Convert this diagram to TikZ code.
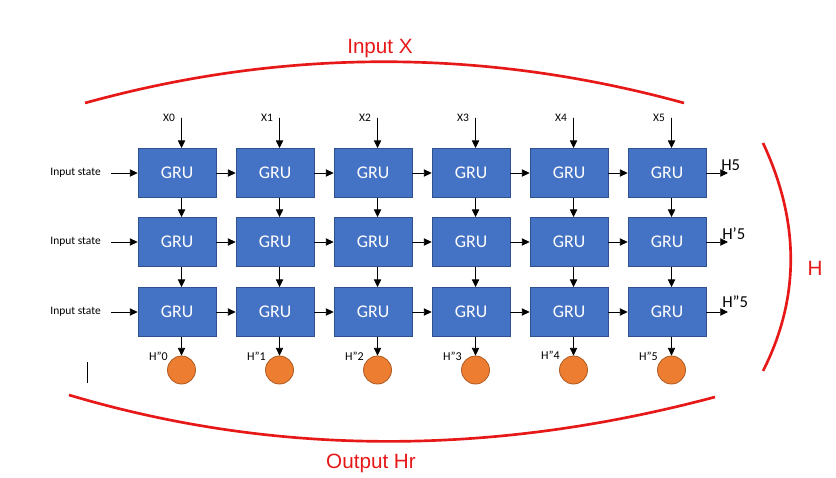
\documentclass[tikz,border=0pt]{standalone}
\usepackage{fontspec}
\setmainfont{Carlito}
\newfontfamily\redfont{Liberation Sans}
\usetikzlibrary{arrows.meta}

\definecolor{gruBlue}{RGB}{68,114,196}
\definecolor{gruBorder}{RGB}{47,82,143}
\definecolor{outOrange}{RGB}{237,125,49}
\definecolor{outBorder}{RGB}{174,90,33}
\definecolor{bracketRed}{RGB}{230,24,24}

\tikzset{
  gru/.style={draw=gruBorder, fill=gruBlue, line width=0.6pt, minimum width=58.5pt, minimum height=36.75pt, inner sep=0pt, text=white, font=\fontsize{13.4}{15}\selectfont},
  hout/.style={circle, draw=outBorder, fill=outOrange, line width=0.6pt, minimum size=21pt, inner sep=0pt},
  flow/.style={-{Triangle[length=5.8pt,width=5.5pt]}, line width=0.6pt},
  bracket/.style={draw=bracketRed, line width=2pt},
  redlabel/.style={text=bracketRed, font=\redfont\fontsize{15.5}{17}\selectfont, inner sep=0.75pt},
  small/.style={font=\fontsize{8.6}{10}\selectfont, inner sep=0.75pt},
  hlabel/.style={font=\fontsize{12.5}{14}\selectfont, inner sep=0.75pt, anchor=west}
}

\begin{document}
\begin{tikzpicture}[x=0.75pt,y=0.75pt,yscale=-1,xscale=1]
\useasboundingbox (0,0) rectangle (836,478);

% GRU cells, first layer
\node [gru] (a0) at (177,173) {GRU};
\node [gru] (a1) at (275,173) {GRU};
\node [gru] (a2) at (373,173) {GRU};
\node [gru] (a3) at (471,173) {GRU};
\node [gru] (a4) at (569,173) {GRU};
\node [gru] (a5) at (667,173) {GRU};
% GRU cells, second layer
\node [gru] (b0) at (177,242) {GRU};
\node [gru] (b1) at (275,242) {GRU};
\node [gru] (b2) at (373,242) {GRU};
\node [gru] (b3) at (471,242) {GRU};
\node [gru] (b4) at (569,242) {GRU};
\node [gru] (b5) at (667,242) {GRU};
% GRU cells, third layer
\node [gru] (c0) at (177,312) {GRU};
\node [gru] (c1) at (275,312) {GRU};
\node [gru] (c2) at (373,312) {GRU};
\node [gru] (c3) at (471,312) {GRU};
\node [gru] (c4) at (569,312) {GRU};
\node [gru] (c5) at (667,312) {GRU};

% Outputs
\node [hout] (o0) at (181.5,370) {};
\node [hout] (o1) at (279.5,370) {};
\node [hout] (o2) at (377.5,370) {};
\node [hout] (o3) at (475.5,370) {};
\node [hout] (o4) at (573.5,370) {};
\node [hout] (o5) at (671.5,370) {};

% Text Node
\node [small] (x0) at (169,118) {X0};
\node [small] (x1) at (267,118) {X1};
\node [small] (x2) at (365,118) {X2};
\node [small] (x3) at (463,118) {X3};
\node [small] (x4) at (561,118) {X4};
\node [small] (x5) at (659,118) {X5};
\coordinate (t0) at (181.5,118);
\coordinate (t1) at (279.5,118);
\coordinate (t2) at (377.5,118);
\coordinate (t3) at (475.5,118);
\coordinate (t4) at (573.5,118);
\coordinate (t5) at (671.5,118);

% Text Node
\node [small, anchor=east] (in1) at (102,173) {Input state};
\node [small, anchor=east] (in2) at (102,242) {Input state};
\node [small, anchor=east] (in3) at (102,312) {Input state};

% Text Node
\node [small, font=\fontsize{9}{10}\selectfont] (l0) at (158.5,356) {H”0};
\node [small, font=\fontsize{9}{10}\selectfont] (l1) at (256.5,356) {H”1};
\node [small, font=\fontsize{9}{10}\selectfont] (l2) at (354.5,356) {H”2};
\node [small, font=\fontsize{9}{10}\selectfont] (l3) at (452.5,356) {H”3};
\node [small, font=\fontsize{9}{10}\selectfont] (l4) at (550.5,355) {H”4};
\node [small, font=\fontsize{9}{10}\selectfont] (l5) at (648.5,356) {H”5};

% Text Node
\coordinate (e1) at (728,173);
\coordinate (e2) at (728,242);
\coordinate (e3) at (728,312);
\node [hlabel] (h1) at (720,165) {H5};
\node [hlabel] (h2) at (721,234) {H’5};
\node [hlabel] (h3) at (721,302) {H”5};

%Straight Lines
\draw [flow] (t0) -- ([xshift=3.4pt]a0.north);
\draw [flow] (t1) -- ([xshift=3.4pt]a1.north);
\draw [flow] (t2) -- ([xshift=3.4pt]a2.north);
\draw [flow] (t3) -- ([xshift=3.4pt]a3.north);
\draw [flow] (t4) -- ([xshift=3.4pt]a4.north);
\draw [flow] (t5) -- ([xshift=3.4pt]a5.north);

\draw [flow] ([xshift=6.75pt]in1.east) -- (a0.west);
\draw [flow] ([xshift=6.75pt]in2.east) -- (b0.west);
\draw [flow] ([xshift=6.75pt]in3.east) -- (c0.west);

\draw [flow] (a0) -- (a1);
\draw [flow] (a1) -- (a2);
\draw [flow] (a2) -- (a3);
\draw [flow] (a3) -- (a4);
\draw [flow] (a4) -- (a5);
\draw [flow] (b0) -- (b1);
\draw [flow] (b1) -- (b2);
\draw [flow] (b2) -- (b3);
\draw [flow] (b3) -- (b4);
\draw [flow] (b4) -- (b5);
\draw [flow] (c0) -- (c1);
\draw [flow] (c1) -- (c2);
\draw [flow] (c2) -- (c3);
\draw [flow] (c3) -- (c4);
\draw [flow] (c4) -- (c5);

\draw [flow] (a5.east) -- (e1);
\draw [flow] (b5.east) -- (e2);
\draw [flow] (c5.east) -- (e3);

\draw [flow] ([xshift=3.4pt]a0.south) -- ([xshift=3.4pt]b0.north);
\draw [flow] ([xshift=3.4pt]a1.south) -- ([xshift=3.4pt]b1.north);
\draw [flow] ([xshift=3.4pt]a2.south) -- ([xshift=3.4pt]b2.north);
\draw [flow] ([xshift=3.4pt]a3.south) -- ([xshift=3.4pt]b3.north);
\draw [flow] ([xshift=3.4pt]a4.south) -- ([xshift=3.4pt]b4.north);
\draw [flow] ([xshift=3.4pt]a5.south) -- ([xshift=3.4pt]b5.north);
\draw [flow] ([xshift=3.4pt]b0.south) -- ([xshift=3.4pt]c0.north);
\draw [flow] ([xshift=3.4pt]b1.south) -- ([xshift=3.4pt]c1.north);
\draw [flow] ([xshift=3.4pt]b2.south) -- ([xshift=3.4pt]c2.north);
\draw [flow] ([xshift=3.4pt]b3.south) -- ([xshift=3.4pt]c3.north);
\draw [flow] ([xshift=3.4pt]b4.south) -- ([xshift=3.4pt]c4.north);
\draw [flow] ([xshift=3.4pt]b5.south) -- ([xshift=3.4pt]c5.north);
\draw [flow] ([xshift=3.4pt]c0.south) -- (o0.north);
\draw [flow] ([xshift=3.4pt]c1.south) -- (o1.north);
\draw [flow] ([xshift=3.4pt]c2.south) -- (o2.north);
\draw [flow] ([xshift=3.4pt]c3.south) -- (o3.north);
\draw [flow] ([xshift=3.4pt]c4.south) -- (o4.north);
\draw [flow] ([xshift=3.4pt]c5.south) -- (o5.north);

%Straight Lines
\draw [line width=0.6pt] (87,362) -- (87,383);

%Curve Lines
\draw [bracket] (85,103) .. controls (284,48) and (484,48) .. (684,103);
\draw [bracket] (69,395) .. controls (274,456) and (490,457) .. (715,397);
\draw [bracket] (763,143) .. controls (800,222) and (800,298) .. (763,371);

% Text Node
\node [redlabel] (inx) at (380,49) {Input X};
\node [redlabel] (outhr) at (371,463) {Output Hr};
\node [redlabel] (hh) at (815,268) {H};

\end{tikzpicture}
\end{document}
